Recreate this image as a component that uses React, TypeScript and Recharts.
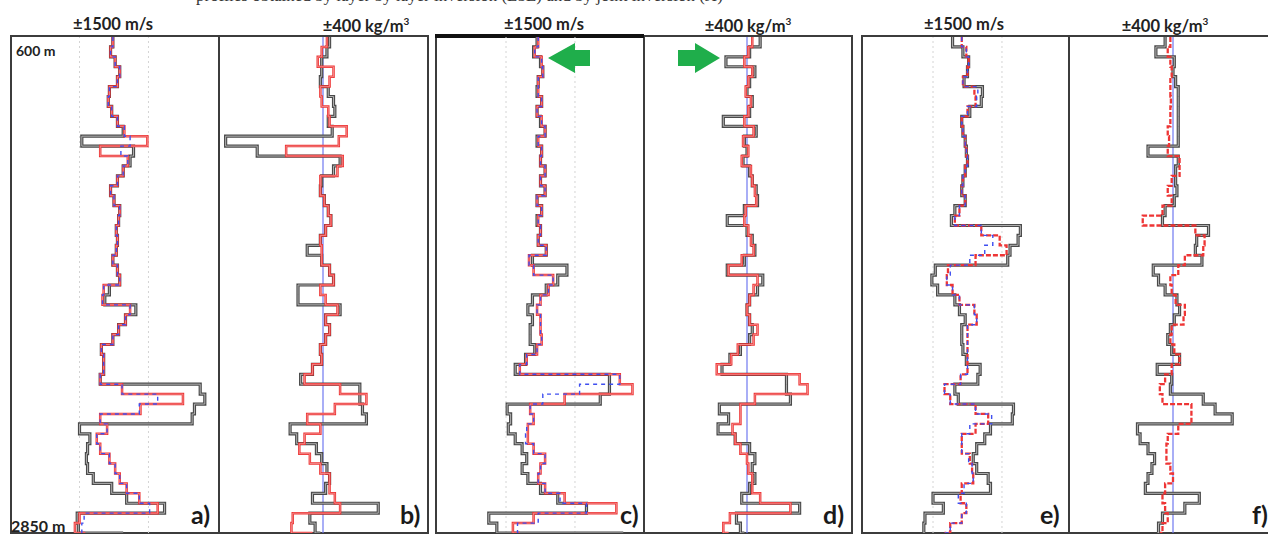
import React from 'react';
import { LineChart, Line, XAxis, YAxis, ReferenceLine } from 'recharts';

// depth samples (m), 600 m at the top of the logs down to 2850 m
const DEPTHS = [600, 645, 690, 735, 780, 825, 870, 915, 960, 1005, 1050, 1095, 1140, 1185, 1230, 1275, 1320, 1365, 1410, 1455, 1500, 1545, 1590, 1635, 1680, 1725, 1770, 1815, 1860, 1905, 1950, 1995, 2040, 2085, 2130, 2175, 2220, 2265, 2310, 2355, 2400, 2445, 2490, 2535, 2580, 2625, 2670, 2715, 2760, 2805, 2850];

// a) velocity (m/s)
const A_BLACK = [-50, -150, 50, 250, 150, -200, -250, -100, 150, 400, -1400, 850, 700, 400, 150, -150, 0, 250, 200, 100, 150, 100, -50, 150, 250, -200, -400, 950, 500, 200, -50, -550, -450, -450, -600, 3750, 3950, 3500, 3400, -1500, -1050, -1150, -1200, -1150, -900, -100, 550, 2200, -1600, -1550, 400];
const A_RED = [-50, -150, 50, 250, 150, -200, -250, -100, 150, 450, 1450, -600, 600, 400, 150, -150, 0, 250, 200, 100, 150, 100, -50, 150, 250, -450, -500, 700, 500, 200, -50, -550, -450, -450, -600, 350, 3000, 1150, -600, -300, -750, -600, -200, 50, 250, 550, 1100, 1900, -1500, -1700, -1250];
const A_BLUE = [-50, -150, 50, 250, 150, -200, -250, -100, 150, 450, 700, 300, 600, 400, 150, -150, 0, 250, 200, 100, 150, 100, -50, 150, 250, -450, -500, 700, 500, 200, -50, -550, -450, -450, -600, 350, 1900, 1100, -600, -300, -750, -600, -200, 50, 250, 550, 1100, 1550, -1300, -1400, -1250];

// b) density (kg/m3)
const B_BLACK = [25, 15, -5, -5, -10, 20, 40, 45, 20, 35, -370, -250, 65, 40, -5, -10, 5, 20, 30, 10, -10, -60, -5, 25, 40, -95, -95, 65, 10, 25, 10, -10, -5, -40, -85, 140, 140, 150, 165, -125, -100, -25, -5, 15, 25, 10, -40, 210, -50, -30, -10];
const B_RED = [15, -5, -20, 40, 25, -10, -5, 20, 25, 90, 60, -140, 75, 55, -10, -10, 5, 20, 30, 10, -10, -5, -5, 25, 40, -10, 10, 55, 10, 25, 10, -10, -5, -40, -70, 65, 165, 45, -60, -10, -70, -90, -50, -10, 25, 25, 45, 65, -115, -120, -40];

// c) velocity (m/s)
const C_BLACK = [-150, -300, 0, 100, -100, -150, 50, -150, 0, 200, -150, 50, 0, 200, 0, 200, -150, 50, -150, 0, -100, 250, -350, 1150, 750, 250, -350, -550, -350, -450, -450, -250, -650, -1100, 3000, 3000, 2600, -1450, -1300, -1400, -1100, -800, -600, -800, -550, 0, 750, 2000, -2250, -1900, 3600];
const C_RED = [-100, -250, 50, 100, -100, -100, 50, -150, 50, 200, -100, 50, 0, 200, 0, 200, -150, 50, -100, 0, -100, 250, -500, -300, 550, 350, 0, -150, 0, 0, 50, -150, -600, -900, 3450, 4000, 1050, -450, -300, -550, -550, -300, 200, 0, -100, 200, 1050, 3300, -300, -1200, -900];
const C_BLUE = [-100, -250, 50, 100, -100, -100, 50, -150, 50, 200, -100, 50, 0, 200, 0, 200, -150, 50, -100, 0, -100, 250, -500, -300, 550, 350, 0, -150, 0, 0, 50, -150, -600, -900, 3450, 1700, 100, -450, -300, -600, -650, -300, 200, 0, -100, 200, 850, 2000, -100, -1000, -900];

// d) density (kg/m3)
const D_BLACK = [50, 10, -80, 30, 10, 0, 20, 10, -90, 35, -10, 0, -15, 10, 20, 35, 40, -10, -75, 0, 20, 30, -10, -75, 60, 40, 10, 0, 10, 20, 10, -25, -65, -95, 150, 150, 165, -105, -70, -110, -45, 10, 30, 20, 30, 10, -20, 200, -40, -25, -10];
const D_RED = [20, 5, -10, 20, 5, -5, 15, 5, -10, 25, -15, 5, -20, 15, 20, 30, 35, -5, -10, 5, 15, 25, -20, -70, 40, 25, 10, 0, 10, 40, 25, -35, -60, -115, 200, 230, 30, -25, -25, -55, -45, -25, 0, 5, 20, 20, 50, 165, -65, -90, -70];

// e) velocity (m/s)
const E_BLACK = [-650, -200, 50, 0, -150, 650, 600, 100, -250, -200, -100, -50, 0, -100, -200, -250, -100, -550, -700, 2300, 2200, 1850, 1750, -1400, -1550, -1300, -550, -350, -100, -250, -250, -200, -50, 550, 450, -550, -400, 2000, 1950, 1000, 750, 400, 250, 400, 900, 1000, -1500, -1050, -1850, -1900, -1850];
const E_RED = [-250, -50, 50, 0, -200, 300, 350, 0, -250, -200, -100, -50, 0, -100, -200, -250, -100, -350, -550, 600, 1400, 1700, 350, -850, -900, -650, -350, 300, 400, 0, 0, 0, 0, 0, -300, -1000, -750, 350, 900, 350, -250, -250, 100, 200, 250, -250, -300, -50, -250, -750, -1000];
const E_BLUE = [-250, -50, 50, 0, -200, 450, 400, 0, -250, -200, -100, -50, 0, -100, -200, -250, -100, -350, -550, 600, 1100, 750, 100, -750, -900, -650, -350, 300, 400, 0, 0, 0, 0, 0, -300, -1000, -750, 350, 1050, 100, -250, -250, 50, 200, 250, -150, -400, -50, -250, -750, -1000];

// f) density (kg/m3)
const F_BLACK = [-30, -65, 5, 0, 10, 20, 20, 20, 20, 20, 20, -95, 20, 10, 10, 15, 5, -30, -40, 135, 90, 85, 110, -75, -55, -30, 15, 25, 5, -10, -20, -5, 25, -60, -5, -10, 115, 160, 225, -135, -125, -95, -70, -80, -95, -105, 100, 45, -40, -55, -60];
const F_RED = [-10, -20, -10, -5, -10, -10, -8, -10, -10, -20, -15, -20, 25, 25, -5, -20, -5, -40, -115, 85, 120, 115, 45, 20, -10, -5, 10, 45, 40, -5, -10, 5, 25, -5, -30, -50, -40, 70, 70, 20, -20, -25, -25, -10, 0, -30, -40, -30, -20, -40, -50];

const VEL_LABEL = '±1500 m/s';

type Panel = {
  id: string;
  kind: 'vel' | 'den';
  left: number;
  right: number;
  center: number;
  perPx: number;
  black: number[];
  red: number[];
  blue?: number[];
  dashedRed?: boolean;
};

const PANELS: Panel[] = [
  { id: 'a', kind: 'vel', left: 12, right: 217, center: 114, perPx: 43.5, black: A_BLACK, red: A_RED, blue: A_BLUE },
  { id: 'b', kind: 'den', left: 220, right: 427, center: 323, perPx: 3.8, black: B_BLACK, red: B_RED },
  { id: 'c', kind: 'vel', left: 437, right: 642, center: 540.5, perPx: 43.5, black: C_BLACK, red: C_RED, blue: C_BLUE },
  { id: 'd', kind: 'den', left: 645, right: 851, center: 747, perPx: 3.8, black: D_BLACK, red: D_RED },
  { id: 'e', kind: 'vel', left: 863, right: 1067, center: 967.5, perPx: 43.5, black: E_BLACK, red: E_RED, blue: E_BLUE, dashedRed: true },
  { id: 'f', kind: 'den', left: 1070, right: 1268, center: 1173, perPx: 3.8, black: F_BLACK, red: F_RED, dashedRed: true },
];

const TOP = 37;
const H = 496;
const font = "Lato, 'Open Sans', sans-serif";

const LogPanel = ({ p }: { p: Panel }) => {
  const rows = DEPTHS.map((depth, i) => ({
    depth,
    black: p.black[i],
    red: p.red[i],
    blue: p.blue ? p.blue[i] : undefined,
  }));
  const lo = (p.left - p.center) * p.perPx;
  const hi = (p.right - p.center) * p.perPx;
  const common = { type: 'stepBefore' as const, dot: false, activeDot: false, isAnimationActive: false };

  return (
    <div style={{ position: 'absolute', left: p.left, top: TOP }}>
      <LineChart layout="vertical" width={p.right - p.left} height={H} data={rows} margin={{ top: 0, right: 0, bottom: 0, left: 0 }}>
        <XAxis type="number" domain={[lo, hi]} hide allowDataOverflow />
        <YAxis type="number" dataKey="depth" domain={[600, 2850]} hide allowDataOverflow />
        {p.kind === 'vel' && <ReferenceLine x={-1500} stroke="#d4d4d4" strokeDasharray="2 3" />}
        {p.kind === 'vel' && <ReferenceLine x={1500} stroke="#d4d4d4" strokeDasharray="2 3" />}
        {p.kind === 'den' && <ReferenceLine x={0} stroke="#6f78f0" strokeWidth={1.2} />}
        <Line key="bo" dataKey="black" {...common} stroke="#4a4a4a" strokeWidth={3.2} />
        <Line key="bi" dataKey="black" {...common} stroke="#bcbcbc" strokeWidth={0.9} />
        {p.dashedRed ? (
          <Line key="rd" dataKey="red" {...common} stroke="#ee3535" strokeWidth={2.3} strokeDasharray="5 2" />
        ) : (
          <Line key="ro" dataKey="red" {...common} stroke="#ee3535" strokeWidth={2.5} />
        )}
        {!p.dashedRed && <Line key="ri" dataKey="red" {...common} stroke="#f5a8a8" strokeWidth={0.7} />}
        {p.blue && <Line key="bl" dataKey="blue" {...common} stroke="#3f4ff0" strokeWidth={1.4} strokeDasharray="4 4" />}
      </LineChart>
    </div>
  );
};

const HeadLabel = ({ x, children }: { x: number; children: React.ReactNode }) => (
  <div style={{ position: 'absolute', top: 16, left: x, transform: 'translateX(-50%)', fontFamily: font, fontSize: 16.5, fontWeight: 700, color: '#222', whiteSpace: 'nowrap', lineHeight: 1 }}>
    {children}
  </div>
);

const Tag = ({ x, text }: { x: number; text: string }) => (
  <div style={{ position: 'absolute', top: 502, left: x, fontFamily: font, fontSize: 25, fontWeight: 700, color: '#1a1a1a', lineHeight: 1 }}>{text}</div>
);

const Box = ({ left, right, divider, thickLeftTop }: { left: number; right: number; divider: number; thickLeftTop?: boolean }) => (
  <>
    <div style={{ position: 'absolute', left, top: 35, width: right - left, height: 499, border: '2px solid #3c3c3c', boxSizing: 'border-box' }} />
    <div style={{ position: 'absolute', left: divider - 1, top: 35, width: 2, height: 499, background: '#3c3c3c' }} />
    {thickLeftTop && <div style={{ position: 'absolute', left, top: 34, width: divider - left, height: 4, background: '#111' }} />}
  </>
);

export default function App() {
  return (
    <div style={{ position: 'absolute', left: 0, top: 0, width: 1268, height: 535, background: '#fff', overflow: 'hidden' }}>
      <div style={{ position: 'absolute', top: -14, left: 196, fontFamily: "'Liberation Serif', serif", fontSize: 17, color: '#333', whiteSpace: 'nowrap' }}>
        profiles obtained by layer by layer inversion (LbL) and by joint inversion (JI)
      </div>

      <Box left={10} right={429} divider={219} />
      <Box left={435} right={853} divider={644} thickLeftTop />
      <Box left={861} right={1280} divider={1069} />

      {PANELS.map((p) => (
        <LogPanel key={p.id} p={p} />
      ))}

      <HeadLabel x={113}>{VEL_LABEL}</HeadLabel>
      <HeadLabel x={544}>{VEL_LABEL}</HeadLabel>
      <HeadLabel x={964}>{VEL_LABEL}</HeadLabel>
      <HeadLabel x={366}>±400 kg/m<sup style={{ fontSize: 10 }}>3</sup></HeadLabel>
      <HeadLabel x={748}>±400 kg/m<sup style={{ fontSize: 10 }}>3</sup></HeadLabel>
      <HeadLabel x={1165}>±400 kg/m<sup style={{ fontSize: 10 }}>3</sup></HeadLabel>

      <div style={{ position: 'absolute', left: 16, top: 42, fontFamily: font, fontSize: 14, fontWeight: 700, color: '#222' }}>600 m</div>
      <div style={{ position: 'absolute', left: 11, top: 516, fontFamily: font, fontSize: 16, fontWeight: 700, color: '#222' }}>2850 m</div>

      <Tag x={191} text="a)" />
      <Tag x={400} text="b)" />
      <Tag x={620} text="c)" />
      <Tag x={823} text="d)" />
      <Tag x={1040} text="e)" />
      <Tag x={1252} text="f)" />

      <svg width={1268} height={535} style={{ position: 'absolute', left: 0, top: 0, pointerEvents: 'none' }}>
        <polygon points="548,58 575,43 575,50 590,50 590,66 575,66 575,73" fill="#1fae4b" />
        <polygon points="720,58 695,43 695,50 678,50 678,66 695,66 695,73" fill="#1fae4b" />
      </svg>
    </div>
  );
}
